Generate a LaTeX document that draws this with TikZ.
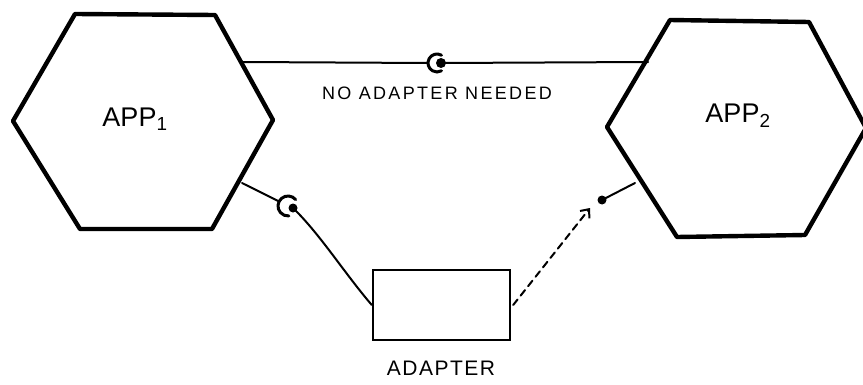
\documentclass[tikz,border=0pt]{standalone}
\usepackage{fontspec}
\setmainfont{Liberation Sans}
\usetikzlibrary{arrows.meta,calc}
\begin{document}
\begin{tikzpicture}[x=1pt,y=1pt,
  hexline/.style={line width=4.4pt,line join=round},
  wire/.style={line width=2pt,line cap=round},
  sock/.style={line width=3pt,line cap=round},
  boxline/.style={line width=2.4pt},
  lbl/.style={font=\fontsize{18}{18}\selectfont\addfontfeature{LetterSpace=13},inner sep=0pt},
  adlbl/.style={font=\fontsize{21}{21}\selectfont\addfontfeature{LetterSpace=7},inner sep=0pt},
  applbl/.style={font=\fontsize{27}{27}\selectfont,inner sep=0pt}]
\useasboundingbox (0,0) rectangle (863,384);
% hexagon 1
\coordinate (h1a) at (75,370);
\coordinate (h1b) at (215,369);
\coordinate (h1c) at (273,264);
\coordinate (h1d) at (212,155);
\coordinate (h1e) at (80,155);
\coordinate (h1f) at (13,263);
\draw[hexline] (h1a)--(h1b)--(h1c)--(h1d)--(h1e)--(h1f)--cycle;
% hexagon 2
\coordinate (h2a) at (670,364);
\coordinate (h2b) at (809,362);
\coordinate (h2c) at (866,256);
\coordinate (h2d) at (805,149);
\coordinate (h2e) at (677,147);
\coordinate (h2f) at (607,257);
\draw[hexline] (h2a)--(h2b)--(h2c)--(h2d)--(h2e)--(h2f)--cycle;
\node[applbl] (app1) at (135,265) {APP\textsubscript{1}};
\node[applbl] (app2) at (738,268) {APP\textsubscript{2}};
% top connection
\coordinate (t1) at (243,322);
\coordinate (tsock) at (437,321);
\coordinate (tdot) at (441,321);
\coordinate (t2) at (648,322);
\draw[wire] (t1) -- ($(tsock)+(-9,0)$);
\draw[sock] ($(tsock)+(60:9)$) arc[start angle=60,end angle=300,radius=9];
\fill (tdot) circle (5);
\draw[wire] (tdot) -- (t2);
\node[lbl] (nolbl) at (437,291) {NO ADAPTER NEEDED};
% lower connection from App1
\coordinate (l1) at (242,201);
\coordinate (lsock) at (288,178);
\coordinate (ldot) at (293,176);
\draw[wire] (l1) -- ($(lsock)+(153:10)$);
\draw[sock] ($(lsock)+(40:10)$) arc[start angle=40,end angle=275,radius=10];
\fill (ldot) circle (4.5);
% adapter box
\node[draw,boxline,minimum width=137pt,minimum height=70pt,inner sep=0pt] (adapter) at (441.5,79) {};
\node[adlbl] (adaptlbl) at (441,16) {ADAPTER};
\draw[wire] (ldot) .. controls (320,150) and (345,110) .. (adapter.west);
% dashed arrow to App2 plug
\coordinate (aend) at (590,176);
\draw[wire,dashed,dash pattern=on 7pt off 5pt,-{Straight Barb[length=7pt,width=12pt]}] ($(adapter.east)+(2,0)$) -- (aend);
\coordinate (rdot) at (602,184);
\coordinate (r2) at (635,201);
\fill (rdot) circle (4.5);
\draw[wire] (rdot) -- (r2);
\end{tikzpicture}
\end{document}
